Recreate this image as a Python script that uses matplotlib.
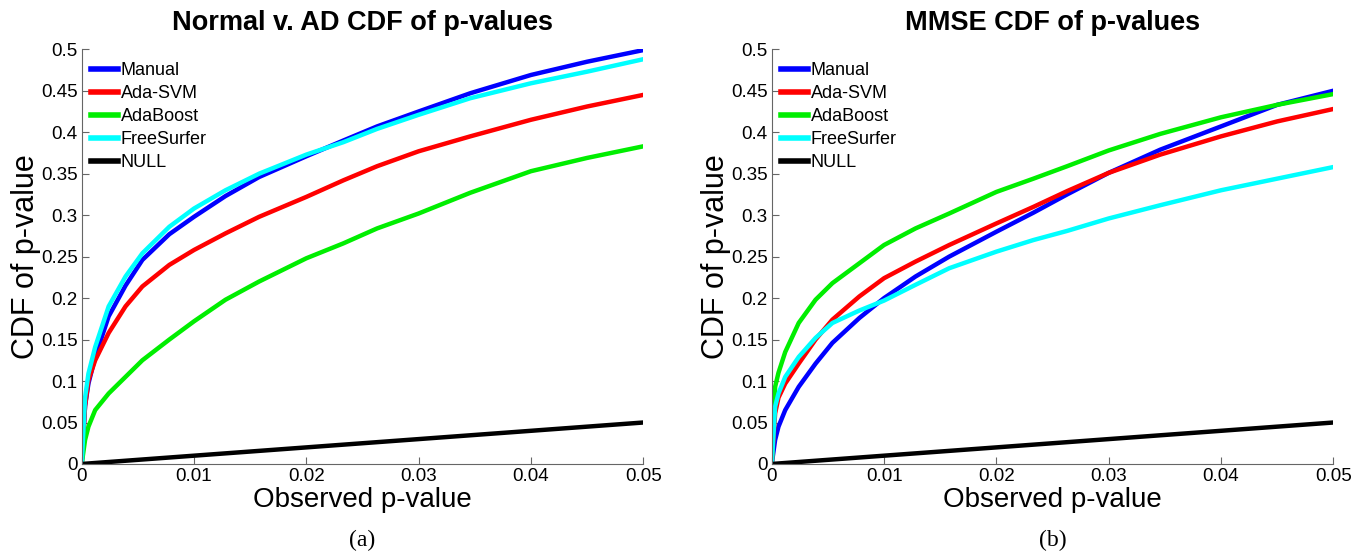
import matplotlib.pyplot as plt
import numpy as np

plt.rcParams['font.family'] = ['Liberation Sans', 'DejaVu Sans']

# shared x grid (observed p-value)
pvals = [0, 0.0003, 0.0006, 0.0012, 0.0024, 0.0039, 0.0054, 0.0078, 0.01, 0.0128,
         0.0158, 0.02, 0.0233, 0.0263, 0.03, 0.0346, 0.04, 0.045, 0.05]

labels = ['Manual', 'Ada-SVM', 'AdaBoost', 'FreeSurfer', 'NULL']
colors = ['#0000ff', '#ff0000', '#00ee00', '#00ffff', '#000000']

# (a) Normal v. AD
ad_manual = [0, 0.07, 0.097, 0.129, 0.178, 0.215, 0.246, 0.277, 0.298, 0.323,
             0.346, 0.371, 0.39, 0.407, 0.425, 0.447, 0.469, 0.485, 0.499]
ad_adasvm = [0, 0.07, 0.101, 0.125, 0.158, 0.19, 0.214, 0.24, 0.258, 0.278,
             0.298, 0.322, 0.342, 0.359, 0.377, 0.395, 0.415, 0.431, 0.445]
ad_adaboost = [0, 0.029, 0.045, 0.065, 0.085, 0.105, 0.125, 0.15, 0.172, 0.198,
               0.22, 0.248, 0.266, 0.284, 0.302, 0.327, 0.353, 0.369, 0.383]
ad_freesurfer = [0, 0.08, 0.109, 0.141, 0.19, 0.226, 0.254, 0.286, 0.308, 0.330,
                 0.350, 0.373, 0.388, 0.404, 0.421, 0.441, 0.459, 0.473, 0.488]

# (b) MMSE
mm_manual = [0, 0.029, 0.045, 0.065, 0.093, 0.121, 0.146, 0.176, 0.2, 0.226,
             0.25, 0.28, 0.303, 0.325, 0.351, 0.379, 0.407, 0.433, 0.45]
mm_adasvm = [0, 0.061, 0.08, 0.097, 0.121, 0.15, 0.174, 0.202, 0.224, 0.244,
             0.264, 0.29, 0.31, 0.329, 0.351, 0.373, 0.395, 0.413, 0.428]
mm_adaboost = [0, 0.093, 0.11, 0.135, 0.17, 0.198, 0.218, 0.242, 0.264, 0.284,
               0.302, 0.328, 0.344, 0.359, 0.378, 0.398, 0.418, 0.433, 0.446]
mm_freesurfer = [0, 0.069, 0.085, 0.105, 0.129, 0.152, 0.17, 0.185, 0.197, 0.216,
                 0.236, 0.256, 0.27, 0.281, 0.296, 0.312, 0.330, 0.344, 0.358]

null_line = pvals  # uniform p-values under the null

xticks = [0, 0.01, 0.02, 0.03, 0.04, 0.05]
xticklabels = ['0', '0.01', '0.02', '0.03', '0.04', '0.05']
yticks = [0, 0.05, 0.1, 0.15, 0.2, 0.25, 0.3, 0.35, 0.4, 0.45, 0.5]
yticklabels = ['0', '0.05', '0.1', '0.15', '0.2', '0.25', '0.3', '0.35', '0.4', '0.45', '0.5']

fig = plt.figure(figsize=(13.64, 5.58), dpi=100)
ax1 = fig.add_axes([0.0599, 0.1685, 0.4117, 0.7432])
ax2 = fig.add_axes([0.5658, 0.1685, 0.4117, 0.7432])

panels = [
    (ax1, 'Normal v. AD CDF of p-values', [ad_manual, ad_adasvm, ad_adaboost, ad_freesurfer, null_line], '(a)'),
    (ax2, 'MMSE CDF of p-values', [mm_manual, mm_adasvm, mm_adaboost, mm_freesurfer, null_line], '(b)'),
]

for ax, title, series, cap in panels:
    for ys, lab, c in zip(series, labels, colors):
        ax.plot(pvals, ys, color=c, lw=3.2, label=lab, solid_joinstyle='round')
    ax.set_xlim(0, 0.05)
    ax.set_ylim(0, 0.5)
    ax.set_xticks(xticks)
    ax.set_xticklabels(xticklabels)
    ax.set_yticks(yticks)
    ax.set_yticklabels(yticklabels)
    ax.tick_params(direction='in', length=5, width=0.8, color='0.4', labelsize=13.5, pad=3)
    for pos in ['top', 'right']:
        ax.spines[pos].set_visible(False)
    for pos in ['left', 'bottom']:
        ax.spines[pos].set_color('0.4')
        ax.spines[pos].set_linewidth(0.8)
    ax.set_title(title, fontsize=19.5, fontweight='bold', pad=14)
    ax.set_xlabel('Observed p-value', fontsize=20, labelpad=1)
    ax.set_ylabel('CDF of p-value', fontsize=22, labelpad=0)
    leg = ax.legend(loc='upper left', frameon=False, fontsize=13, handlelength=1.5,
                    handletextpad=0.15, labelspacing=0.33, borderaxespad=0.1,
                    bbox_to_anchor=(0.0, 0.99))
    for h in leg.get_lines():
        h.set_linewidth(4)
    ax.text(0.5, -0.185, cap, transform=ax.transAxes, ha='center', va='center',
            fontsize=17, family=['Liberation Serif', 'DejaVu Serif'])

fig.savefig('out.png', dpi=100)
